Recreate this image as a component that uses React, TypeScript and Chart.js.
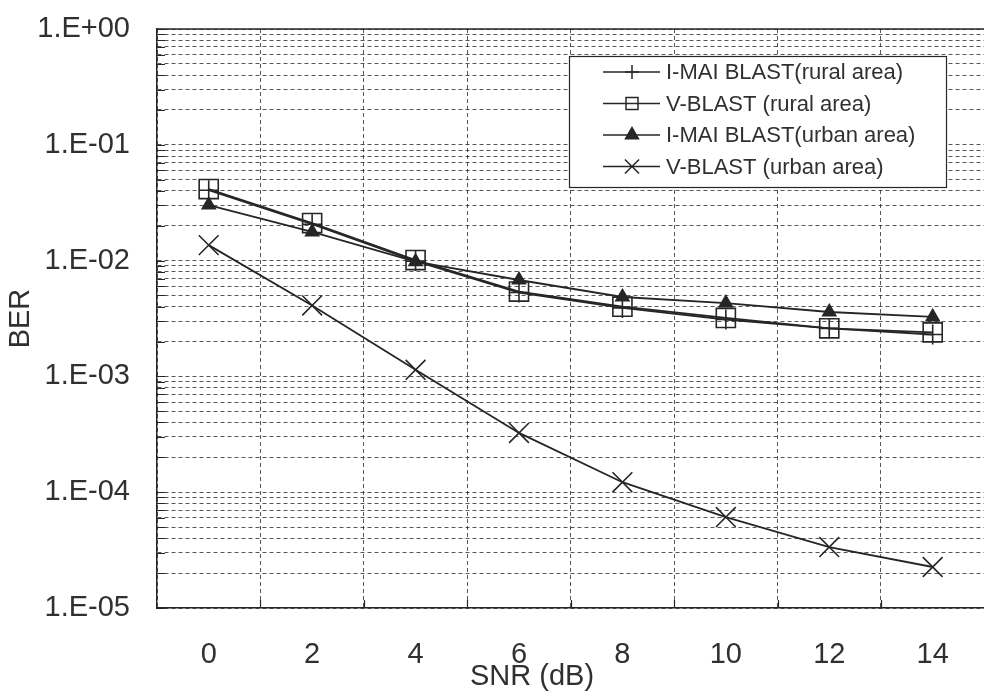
import React, { useEffect, useRef } from "react";
import { Chart, registerables } from "chart.js";
import { drawPoint } from "chart.js/helpers";

Chart.register(...registerables);

// SNR values in dB (category labels)
const snrLabels = ["0", "2", "4", "6", "8", "10", "12", "14"];

// Bit error rates per scheme
const imaiRural = [0.0405, 0.0206, 0.0099, 0.0053, 0.0039, 0.0031, 0.0026, 0.0023];
const vblastRural = [0.0415, 0.0211, 0.0101, 0.0054, 0.004, 0.0032, 0.0026, 0.0024];
const imaiUrban = [0.0302, 0.0177, 0.0098, 0.0068, 0.00485, 0.0043, 0.0036, 0.00326];
const vblastUrban = [0.0136, 0.0041, 0.00114, 0.000325, 0.000122, 0.000061, 0.0000336, 0.0000226];

const seriesNames = [
  "I-MAI BLAST(rural area)",
  "V-BLAST (rural area)",
  "I-MAI BLAST(urban area)",
  "V-BLAST (urban area)",
];

// Y axis tick values: every 1..9 × 10^k from 1e-5 up to 1
const yTickValues: number[] = [];
for (let e = -5; e <= 0; e++) {
  for (let m = 1; m <= 9; m++) {
    const v = m * Math.pow(10, e);
    if (v <= 1.0000001) yTickValues.push(Number(v.toPrecision(3)));
  }
}

const FONT = '"Liberation Sans", Arial, sans-serif';
const INK = "#262626";
const TEXT = "#303030";
const GRID = "rgba(45,45,45,0.8)";

function formatSci(v: number): string {
  const e = Math.round(Math.log10(v));
  const sign = e < 0 ? "-" : "+";
  const abs = Math.abs(e).toString().padStart(2, "0");
  return `1.E${sign}${abs}`;
}

const legendMarkers = [
  { pointStyle: "cross", radius: 7, fill: "rgba(0,0,0,0)" },
  { pointStyle: "rect", radius: 8.5, fill: "rgba(0,0,0,0)" },
  { pointStyle: "triangle", radius: 7.5, fill: INK },
  { pointStyle: "crossRot", radius: 10, fill: "rgba(0,0,0,0)" },
];

// Inner tick marks, solid frame top, x-axis title and the boxed legend
const decorPlugin = {
  id: "berDecor",
  afterDraw(chart: any) {
    const { ctx, chartArea } = chart;
    const { left, right, top, bottom } = chartArea;
    const ys = chart.scales.y;
    ctx.save();
    ctx.strokeStyle = INK;
    ctx.lineWidth = 1.2;
    ctx.setLineDash([]);
    ctx.beginPath();
    for (const t of ys.ticks) {
      const py = Math.round(ys.getPixelForValue(t.value)) + 0.5;
      ctx.moveTo(left, py);
      ctx.lineTo(left + 8, py);
    }
    const n = snrLabels.length;
    for (let i = 1; i < n; i++) {
      const px = Math.round(left + (i * (right - left)) / n) + 0.5;
      ctx.moveTo(px, bottom);
      ctx.lineTo(px, bottom - 8);
    }
    ctx.stroke();

    ctx.lineWidth = 1.5;
    ctx.beginPath();
    ctx.moveTo(left, top);
    ctx.lineTo(right, top);
    ctx.stroke();

    // x-axis title
    ctx.fillStyle = TEXT;
    ctx.font = `29px ${FONT}`;
    ctx.textAlign = "center";
    ctx.textBaseline = "alphabetic";
    ctx.fillText("SNR (dB)", 532, 685);

    // legend box
    const bx = 569, by = 56, bw = 377, bh = 131;
    ctx.fillStyle = "#ffffff";
    ctx.fillRect(bx, by, bw, bh);
    ctx.strokeStyle = INK;
    ctx.lineWidth = 1.2;
    ctx.strokeRect(bx + 0.5, by + 0.5, bw, bh);

    const rows = [72, 103.5, 135, 166.5];
    ctx.font = `22px ${FONT}`;
    ctx.textAlign = "left";
    ctx.textBaseline = "middle";
    rows.forEach((ry, i) => {
      ctx.strokeStyle = INK;
      ctx.lineWidth = 1.5;
      ctx.beginPath();
      ctx.moveTo(603, ry);
      ctx.lineTo(660, ry);
      ctx.stroke();
      const m = legendMarkers[i];
      ctx.fillStyle = m.fill;
      ctx.strokeStyle = INK;
      ctx.lineWidth = 1.5;
      drawPoint(ctx, { pointStyle: m.pointStyle, radius: m.radius, borderWidth: 1.5, rotation: 0 } as any, 632, ry);
      ctx.fillStyle = TEXT;
      ctx.fillText(seriesNames[i], 666, ry + 1);
    });
    ctx.restore();
  },
};

export default function App() {
  const canvasRef = useRef<HTMLCanvasElement | null>(null);

  useEffect(() => {
    const canvas = canvasRef.current;
    if (!canvas) return;

    const common = {
      borderColor: INK,
      borderWidth: 1.8,
      pointBorderColor: INK,
      pointBorderWidth: 1.6,
      tension: 0,
      fill: false,
    };

    const chart = new Chart(canvas, {
      type: "line",
      data: {
        labels: snrLabels,
        datasets: [
          { ...common, label: seriesNames[0], data: imaiRural, pointStyle: "cross", pointRadius: 10, pointBackgroundColor: "rgba(0,0,0,0)" },
          { ...common, label: seriesNames[1], data: vblastRural, pointStyle: "rect", pointRadius: 13.5, pointBackgroundColor: "rgba(0,0,0,0)" },
          { ...common, label: seriesNames[2], data: imaiUrban, pointStyle: "triangle", pointRadius: 7.5, pointBackgroundColor: INK },
          { ...common, label: seriesNames[3], data: vblastUrban, pointStyle: "crossRot", pointRadius: 14, pointBackgroundColor: "rgba(0,0,0,0)" },
        ],
      },
      options: {
        responsive: false,
        animation: false,
        devicePixelRatio: 1,
        layout: { padding: { left: 0, top: 29, right: 13, bottom: 0 } },
        plugins: {
          legend: { display: false },
          tooltip: { enabled: false },
        },
        scales: {
          x: {
            type: "category",
            offset: true,
            grid: { offset: true, color: GRID, lineWidth: 1, drawTicks: false },
            border: { display: true, color: INK, width: 1.5, dash: [4, 3] },
            ticks: { color: TEXT, font: { family: FONT, size: 29 }, padding: 30, maxRotation: 0 },
            afterFit(scale: any) {
              scale.height = 92;
              scale.paddingLeft = 0;
              scale.paddingRight = 0;
            },
          },
          y: {
            type: "logarithmic",
            min: 0.00001,
            max: 1,
            grid: { color: GRID, lineWidth: 1, drawTicks: false },
            border: { display: true, color: INK, width: 1.5, dash: [4, 3] },
            title: {
              display: true,
              text: "BER",
              color: TEXT,
              font: { family: FONT, size: 29 },
              padding: { top: 4, bottom: 4 },
            },
            ticks: {
              color: TEXT,
              font: { family: FONT, size: 29 },
              padding: 27,
              autoSkip: false,
              callback(value: any) {
                const v = Number(value);
                const lg = Math.log10(v);
                return Math.abs(lg - Math.round(lg)) < 1e-6 ? formatSci(v) : "";
              },
            },
            afterBuildTicks(scale: any) {
              scale.ticks = yTickValues.map((v) => ({ value: v }));
            },
            afterFit(scale: any) {
              scale.width = 157;
              scale.paddingTop = 0;
              scale.paddingBottom = 0;
            },
          },
        },
      },
      plugins: [decorPlugin],
    } as any);

    return () => chart.destroy();
  }, []);

  return (
    <div style={{ position: "absolute", left: 0, top: 0, width: 984, height: 700, overflow: "hidden", background: "#fff" }}>
      <canvas ref={canvasRef} width={1000} height={700} style={{ display: "block" }} />
    </div>
  );
}
